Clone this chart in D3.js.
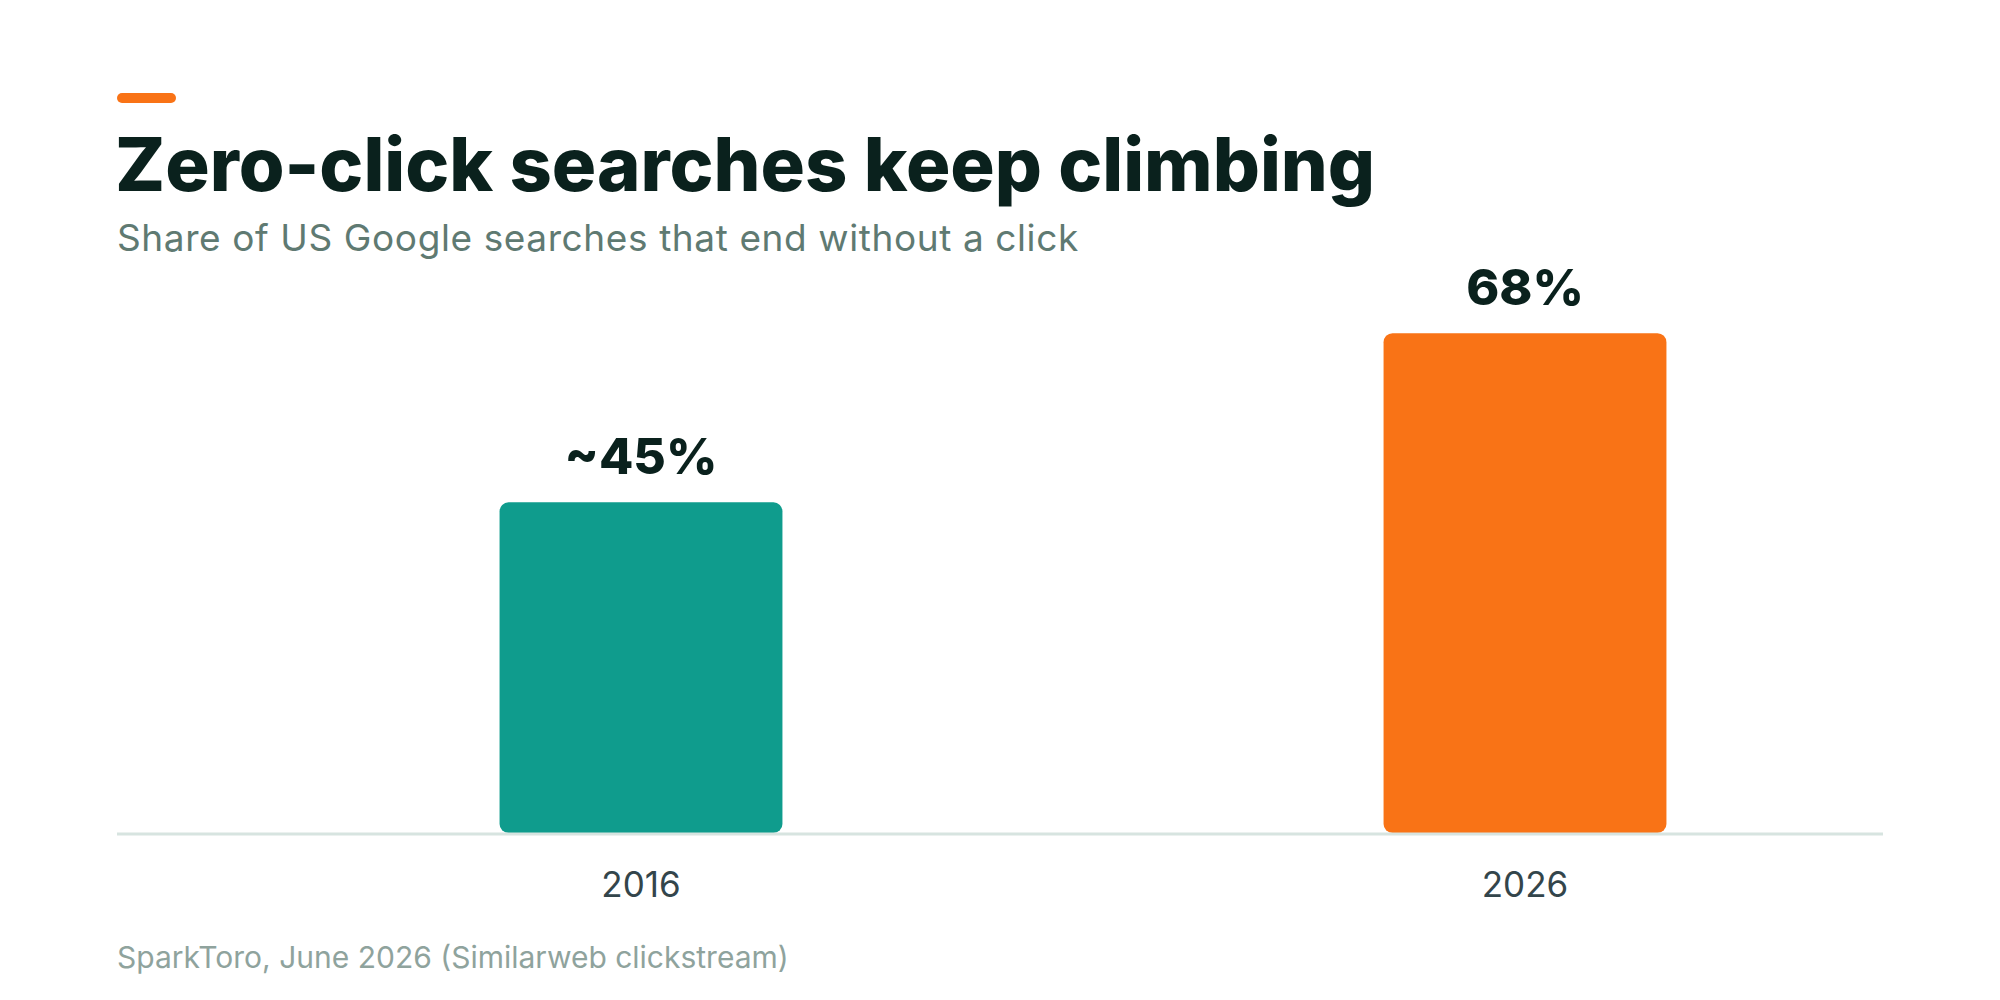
<!DOCTYPE html>
<html>
<head>
<meta charset="utf-8">
<script src="https://cdn.jsdelivr.net/npm/d3@7"></script>
<style>
  body { margin: 0; background: #fff; }
  svg { display: block; font-family: Inter, "Noto Sans", sans-serif; }
</style>
</head>
<body>
<svg id="chart" width="2000" height="1000"></svg>
<script>
// data
const years = ['2016', '2026']
const shares = [45, 68]
const valueLabels = ['~45%', '68%']
const barColors = ['#0f9c8d', '#f97316']

const title = 'Zero-click searches keep climbing'
const subtitle = 'Share of US Google searches that end without a click'
const source = 'SparkToro, June 2026 (Similarweb clickstream)'

// layout
const left = 117
const right = 1883
const baseY = 833

const svg = d3.select('#chart')

// accent + headings
svg.append('rect')
    .attr('x', left)
    .attr('y', 93)
    .attr('width', 59)
    .attr('height', 10)
    .attr('rx', 5)
    .attr('fill', '#f97316')

svg.append('text')
    .attr('x', left - 2)
    .attr('y', 191)
    .attr('font-size', 74)
    .attr('font-weight', 800)
    .attr('fill', '#0a211d')
    .text(title)

svg.append('text')
    .attr('x', left)
    .attr('y', 251)
    .attr('font-size', 37)
    .attr('letter-spacing', 0.6)
    .attr('fill', '#5f7a72')
    .text(subtitle)

// scales
const x = d3.scaleBand()
    .domain(years)
    .range([199, 1967])
    .paddingInner(0.68)
    .paddingOuter(0.34)

const y = d3.scaleLinear()
    .domain([0, 100])
    .range([baseY, 98])

const rows = years.map((d, i) => ({ year: d, value: shares[i], label: valueLabels[i], color: barColors[i] }))

// bars
svg.append('g')
  .selectAll('rect')
  .data(rows)
  .join('rect')
    .attr('x', d => x(d.year))
    .attr('y', d => y(d.value))
    .attr('width', x.bandwidth())
    .attr('height', d => y(0) - y(d.value))
    .attr('rx', 9)
    .attr('fill', d => d.color)

// baseline
svg.append('line')
    .attr('x1', left)
    .attr('x2', right)
    .attr('y1', baseY + 1)
    .attr('y2', baseY + 1)
    .attr('stroke', '#d7e4e0')
    .attr('stroke-width', 3)

// value labels
svg.append('g')
  .selectAll('text')
  .data(rows)
  .join('text')
    .attr('x', d => x(d.year) + x.bandwidth() / 2)
    .attr('y', d => y(d.value) - 28)
    .attr('text-anchor', 'middle')
    .attr('font-size', 50)
    .attr('font-weight', 800)
    .attr('fill', '#0a211d')
    .text(d => d.label)

// year axis
const axis = svg.append('g')
    .attr('transform', `translate(0,${baseY})`)
    .call(d3.axisBottom(x).tickSize(0).tickPadding(0))
axis.select('path.domain').remove()
axis.selectAll('text')
    .attr('dy', null)
    .attr('y', 64)
    .attr('font-family', 'Inter, sans-serif')
    .attr('font-size', 35)
    .attr('fill', '#33454b')

// source
svg.append('text')
    .attr('x', left)
    .attr('y', 968)
    .attr('font-size', 30)
    .attr('fill', '#8fa39d')
    .text(source)
</script>
</body>
</html>
